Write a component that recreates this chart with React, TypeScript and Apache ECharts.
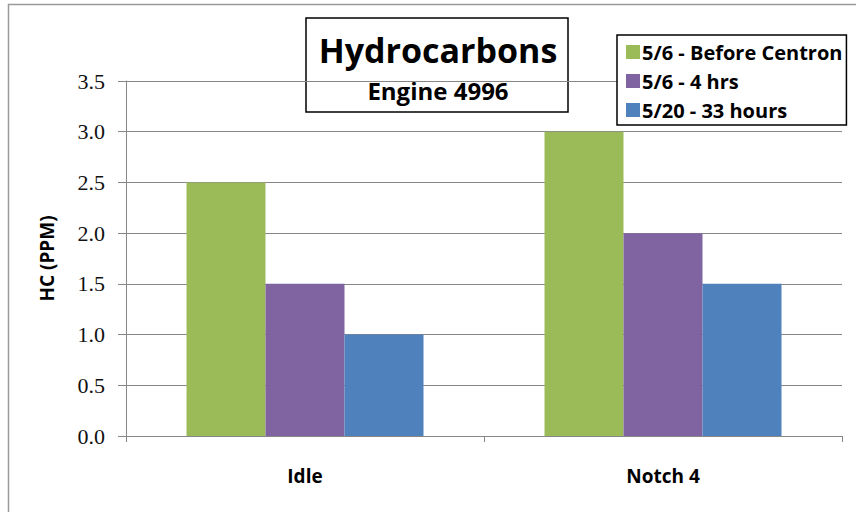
import React, { useEffect, useRef } from "react";
import * as echarts from "echarts";

const categories = ["Idle", "Notch 4"];
const seriesNames = ["5/6 - Before Centron", "5/6 - 4 hrs", "5/20 - 33 hours"];
const beforeCentron = [2.5, 3.0];
const fourHrs = [1.5, 2.0];
const thirtyThreeHours = [1.0, 1.5];
const seriesColors = ["#9BBB59", "#8064A2", "#4F81BD"];
const titleText = "Hydrocarbons";
const subtitleText = "Engine 4996";
const yAxisTitle = "HC (PPM)";

export default function App() {
  const ref = useRef<HTMLDivElement>(null);
  useEffect(() => {
    if (!ref.current) return;
    const chart = echarts.init(ref.current, null, { renderer: "svg" });
    const values = [beforeCentron, fourHrs, thirtyThreeHours];
    const font = "'Open Sans', 'Noto Sans', sans-serif";
    chart.setOption({
      animation: false,
      backgroundColor: "#ffffff",
      grid: { left: 126, right: 14, top: 81, bottom: 76, containLabel: false },
      legend: {
        orient: "vertical",
        left: 617,
        top: 35,
        padding: [6, 4, 4, 9],
        itemGap: 7,
        itemWidth: 14,
        itemHeight: 14,
        borderColor: "#000",
        borderWidth: 1.5,
        backgroundColor: "#ffffff",
        icon: "rect",
        textStyle: { fontFamily: font, fontWeight: "bold", fontSize: 20, color: "#000", lineHeight: 22, padding: [0, 0, 0, -3] },
        data: seriesNames,
        z: 10,
      },
      xAxis: {
        type: "category",
        data: categories,
        axisLine: { show: true, lineStyle: { color: "#868686", width: 1 } },
        axisTick: { show: true, alignWithLabel: false, length: 6, lineStyle: { color: "#868686" } },
        axisLabel: { margin: 30, fontFamily: font, fontWeight: "bold", fontSize: 19, color: "#000" },
      },
      yAxis: {
        type: "value",
        min: 0,
        max: 3.5,
        interval: 0.5,
        name: yAxisTitle,
        nameLocation: "middle",
        nameGap: 70,
        nameRotate: 90,
        nameTextStyle: { fontFamily: font, fontWeight: "bold", fontSize: 19, color: "#000" },
        axisLine: { show: true, lineStyle: { color: "#868686", width: 1 } },
        axisTick: { show: true, length: 8, lineStyle: { color: "#868686" } },
        splitLine: { show: true, lineStyle: { color: "#868686", width: 1 } },
        axisLabel: {
          margin: 21,
          fontFamily: "'Liberation Serif', 'DejaVu Serif', serif",
          fontWeight: "normal",
          fontSize: 22,
          color: "#111",
          formatter: (v: number) => v.toFixed(1),
        },
      },
      series: seriesNames.map((name, i) => ({
        name,
        type: "bar",
        data: values[i],
        barWidth: 79,
        barGap: "0%",
        itemStyle: { color: seriesColors[i] },
      })),
      graphic: [
        {
          type: "rect",
          shape: { x: 8.5, y: 4.5, width: 900, height: 600 },
          style: { fill: "none", stroke: "#9a9a9a", lineWidth: 1.5 },
          z: 1,
          silent: true,
        },
        {
          type: "group",
          z: 20,
          children: [
            {
              type: "rect",
              shape: { x: 306, y: 18, width: 262, height: 94 },
              style: { fill: "#ffffff", stroke: "#000", lineWidth: 1.5 },
            },
            {
              type: "text",
              x: 438,
              y: 50,
              style: {
                text: titleText,
                font: "bold 34px 'Open Sans', 'Noto Sans', sans-serif",
                fill: "#000",
                align: "center",
                verticalAlign: "middle",
              },
            },
            {
              type: "text",
              x: 438,
              y: 90,
              style: {
                text: subtitleText,
                font: "bold 24px 'Open Sans', 'Noto Sans', sans-serif",
                fill: "#000",
                align: "center",
                verticalAlign: "middle",
              },
            },
          ],
        },
      ],
    });
    return () => chart.dispose();
  }, []);
  return (
    <div
      ref={ref}
      style={{ position: "fixed", left: 0, top: 0, width: 856, height: 512 }}
    />
  );
}
